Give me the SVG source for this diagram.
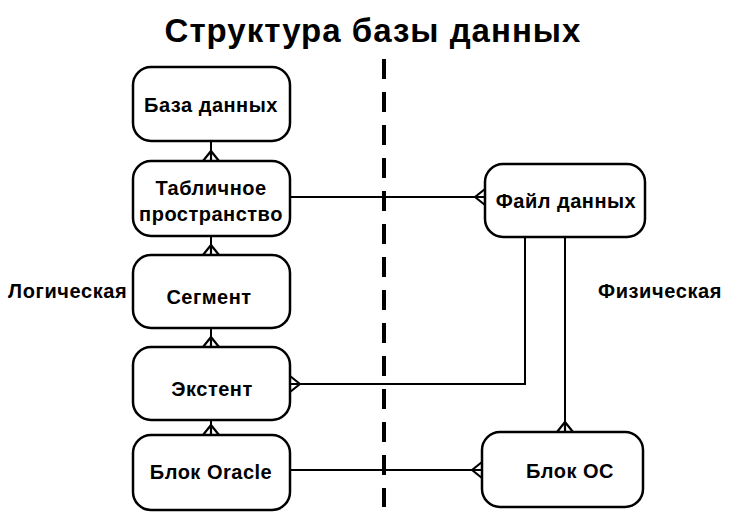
<svg xmlns="http://www.w3.org/2000/svg" width="735" height="524" viewBox="0 0 735 524">
<defs>
<style>
.box{fill:#fff;stroke:#000;stroke-width:2.5}
.lbl{font-family:"Liberation Sans",Arial,sans-serif;font-weight:bold;font-size:20px;letter-spacing:0.5px;fill:#000;text-anchor:middle}
.side{font-family:"Liberation Sans",Arial,sans-serif;font-weight:bold;font-size:20px;letter-spacing:0.6px;fill:#000}
.title{font-family:"Liberation Sans",Arial,sans-serif;font-weight:bold;font-size:33px;letter-spacing:1px;fill:#000;text-anchor:middle}
.conn{fill:none;stroke:#000;stroke-width:2}
</style>
<marker id="crow" viewBox="-12 -10 14 20" markerUnits="userSpaceOnUse" markerWidth="14" markerHeight="20" refX="0" refY="0" orient="auto">
<path d="M-10,0 L0,-8 M-10,0 L0,8 M-10,0 L0,0" fill="none" stroke="#000" stroke-width="2.2"/>
</marker>
</defs>
<rect width="735" height="524" fill="#fff"/>
<text class="title" x="373" y="42">Структура базы данных</text>
<line x1="384" y1="59" x2="384" y2="507" stroke="#000" stroke-width="4" stroke-dasharray="20 13"/>
<text class="side" x="8" y="298">Логическая</text>
<text class="side" x="598" y="298">Физическая</text>
<g id="connectors">
<path class="conn" d="M211,141 V161" marker-end="url(#crow)"/>
<path class="conn" d="M211,236 V255" marker-end="url(#crow)"/>
<path class="conn" d="M211,328 V347" marker-end="url(#crow)"/>
<path class="conn" d="M211,420 V435" marker-end="url(#crow)"/>
<path class="conn" d="M290,197 H485" marker-end="url(#crow)"/>
<path class="conn" d="M525,237 V384 H290" marker-end="url(#crow)"/>
<path class="conn" d="M565,237 V432" marker-end="url(#crow)"/>
<path class="conn" d="M290,470 H482" marker-end="url(#crow)"/>
</g>
<g id="db"><rect class="box" x="133" y="67" width="157" height="74" rx="18"/><text class="lbl" x="211" y="112">База данных</text></g>
<g id="tablespace"><rect class="box" x="133" y="161" width="157" height="75" rx="18"/><text class="lbl" x="211" y="195">Табличное</text><text class="lbl" x="211" y="221">пространство</text></g>
<g id="segment"><rect class="box" x="133" y="255" width="157" height="73" rx="18"/><text class="lbl" x="209" y="304">Сегмент</text></g>
<g id="extent"><rect class="box" x="133" y="347" width="157" height="73" rx="18"/><text class="lbl" x="212" y="396">Экстент</text></g>
<g id="oracleblock"><rect class="box" x="133" y="435" width="157" height="75" rx="18"/><text class="lbl" x="211" y="479">Блок Oracle</text></g>
<g id="datafile"><rect class="box" x="485" y="164" width="160" height="73" rx="18"/><text class="lbl" x="566" y="208">Файл данных</text></g>
<g id="osblock"><rect class="box" x="482" y="432" width="161" height="75" rx="18"/><text class="lbl" x="570" y="478">Блок ОС</text></g>
</svg>
